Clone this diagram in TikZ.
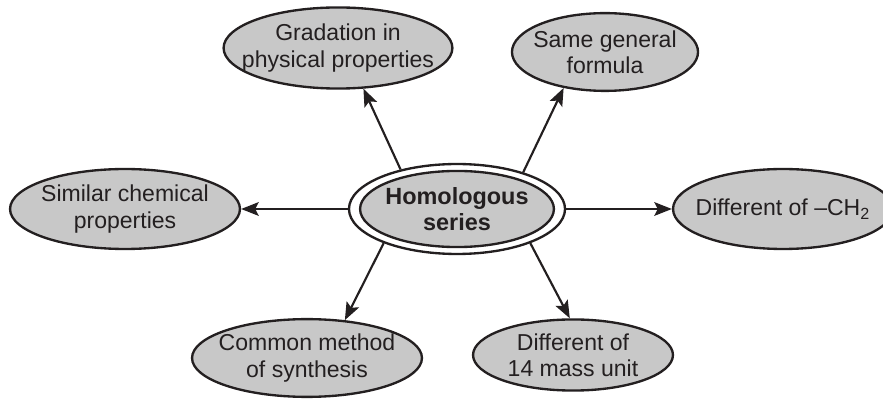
\documentclass[tikz,border=0pt]{standalone}
\usepackage{fontspec}
\setmainfont{Liberation Sans}
\usepackage{xcolor}
\usepackage{tikz}
\usetikzlibrary{shapes.geometric, arrows.meta}

\definecolor{bubbleGray}{RGB}{200,200,200}
\definecolor{inkBlack}{RGB}{35,31,32}

\begin{document}
\begin{tikzpicture}[
    x=0.018cm, y=-0.018cm,
    % estilos
    bubble/.style={ellipse, draw=inkBlack, line width=1.2pt, fill=bubbleGray, inner xsep=-1.2cm, inner ysep=-0.3cm, align=center, font=\fontsize{11.8}{13.5}\selectfont, text=inkBlack},
    hubOuter/.style={ellipse, draw=inkBlack, line width=1.2pt, fill=white, inner sep=0pt, minimum width=3.89cm, minimum height=1.62cm},
    hubInner/.style={bubble, font=\fontsize{12}{13.5}\selectfont\bfseries},
    linkArrow/.style={draw=inkBlack, line width=1.1pt, -{Stealth[length=9pt, width=7pt, inset=1.8pt]}}
]

\useasboundingbox (0,0) rectangle (883,399);
\clip (0,0) rectangle (883,399);

% ==========================
% NO CENTRAL
% ==========================
\node[hubOuter] (hsOut) at (457,209) {};
\node[hubInner, minimum width=3.49cm, minimum height=1.37cm] (hsIn) at (457,209) {Homologous\\series};

% ==========================
% BALOES EXTERNOS
% ==========================
\node[bubble, minimum width=4.12cm, minimum height=1.46cm] (grad) at (338,48) {Gradation in\\physical properties};
\node[bubble, minimum width=3.35cm, minimum height=1.40cm] (same) at (605,52) {Same general\\formula};
\node[bubble, minimum width=4.14cm, minimum height=1.44cm] (simi) at (125,209) {Similar chemical\\properties};
\node[bubble, minimum width=3.96cm, minimum height=1.44cm] (chtwo) at (783,209) {Different of --CH\textsubscript{2}};
\node[bubble, minimum width=4.14cm, minimum height=1.40cm] (synth) at (307,358) {Common method\\of synthesis};
\node[bubble, minimum width=3.60cm, minimum height=1.28cm] (mass) at (573,355) {Different of\\14 mass unit};

% ==========================
% SETAS
% ==========================
\draw[linkArrow] (hsOut.145) -- (grad.-58);
\draw[linkArrow] (hsOut.29) -- (same.221);
\draw[linkArrow] (hsOut.west) -- (simi.east);
\draw[linkArrow] (hsOut.east) -- (chtwo.west);
\draw[linkArrow] (hsOut.205) -- (synth.45);
\draw[linkArrow] (hsOut.335) -- (mass.95);

\end{tikzpicture}
\end{document}
